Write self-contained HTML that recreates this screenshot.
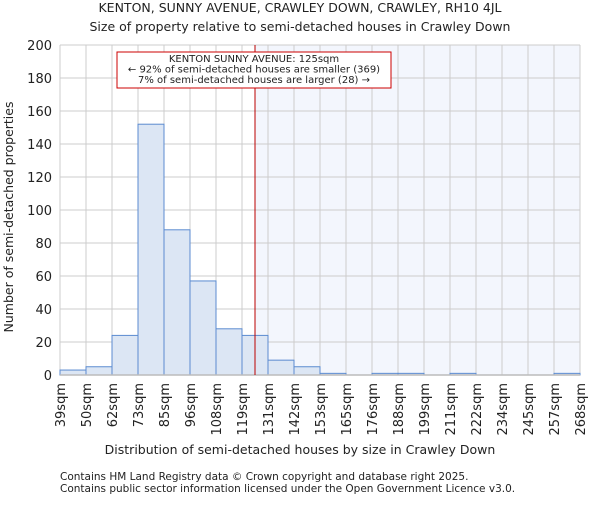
<!DOCTYPE html>
<html><head><meta charset="utf-8"><style>
body{margin:0;background:#fff;font-family:"Liberation Sans","DejaVu Sans",sans-serif}
svg text{font-family:"DejaVu Sans","Liberation Sans",sans-serif;fill:#222}
</style></head><body>
<svg id="c" width="600" height="500">
<text x="300" y="12" font-size="12.5" text-anchor="middle">KENTON, SUNNY AVENUE, CRAWLEY DOWN, CRAWLEY, RH10 4JL</text>
<text x="300" y="31" font-size="12.5" text-anchor="middle">Size of property relative to semi-detached houses in Crawley Down</text>
<g id="plot"></g>
<text x="300" y="454" font-size="12.5" text-anchor="middle">Distribution of semi-detached houses by size in Crawley Down</text>
<text transform="translate(13,217) rotate(-90)" font-size="12.5" text-anchor="middle">Number of semi-detached properties</text>
<text x="60" y="480" font-size="10.5">Contains HM Land Registry data © Crown copyright and database right 2025.</text>
<text x="60" y="492" font-size="10.5">Contains public sector information licensed under the Open Government Licence v3.0.</text>
</svg>
<script>
const categories=["39sqm","50sqm","62sqm","73sqm","85sqm","96sqm","108sqm","119sqm","131sqm","142sqm","153sqm","165sqm","176sqm","188sqm","199sqm","211sqm","222sqm","234sqm","245sqm","257sqm","268sqm"];
const counts=[3,5,24,152,88,57,28,24,9,5,1,0,1,1,0,1,0,0,0,1];
const yTicks=[0,20,40,60,80,100,120,140,160,180,200];
const markerBin=7.5;
const NS="http://www.w3.org/2000/svg";
const g=document.getElementById('plot');
const X0=60,X1=580,Y0=375,Y1=45,n=counts.length;
const xs=i=>X0+(X1-X0)*i/n;
const ys=v=>Y0-(Y0-Y1)*v/200;
function mk(t,a){const e=document.createElementNS(NS,t);for(const k in a)e.setAttribute(k,a[k]);g.appendChild(e);return e;}
let e;
const mx=xs(markerBin);
e=mk('rect',{x:mx,y:Y1,width:X1-mx,height:Y0-Y1,fill:'#f3f6fd'});


yTicks.forEach(v=>{
 e=mk('line',{x1:X0,x2:X1,y1:ys(v),y2:ys(v),stroke:'#ccc','stroke-width':1});
 
 
 e=mk('text',{x:X0-8,y:ys(v)+5,'font-size':13,'text-anchor':'end'});e.textContent=v;
 
 
});
categories.forEach((c,i)=>{
 e=mk('line',{x1:xs(i),x2:xs(i),y1:Y1,y2:Y0,stroke:'#ccc','stroke-width':1});
 
 
 e=mk('text',{transform:`translate(${xs(i)+5},${Y0+8}) rotate(-90)`,'font-size':13,'text-anchor':'end'});e.textContent=c;
 
 
});
counts.forEach((v,i)=>{
 e=mk('rect',{x:xs(i),y:ys(v),width:xs(i+1)-xs(i),height:Y0-ys(v),fill:'#dce6f4',stroke:'#5b8bd0','stroke-width':1});
 
 
});
e=mk('line',{x1:X0,x2:X1,y1:Y0,y2:Y0,stroke:'#bbb','stroke-width':1.5});


e=mk('line',{x1:mx,x2:mx,y1:Y1,y2:Y0,stroke:'#b00','stroke-width':1});


e=mk('rect',{x:117,y:52,width:274,height:36,fill:'#fff',stroke:'#c00','stroke-width':1});


[["KENTON SUNNY AVENUE: 125sqm",62],["← 92% of semi-detached houses are smaller (369)",72.5],["7% of semi-detached houses are larger (28) →",83]].forEach(([t,y])=>{
 e=mk('text',{x:254,y:y,'font-size':10,'text-anchor':'middle'});e.textContent=t;
 
 
});
</script>
</body></html>
